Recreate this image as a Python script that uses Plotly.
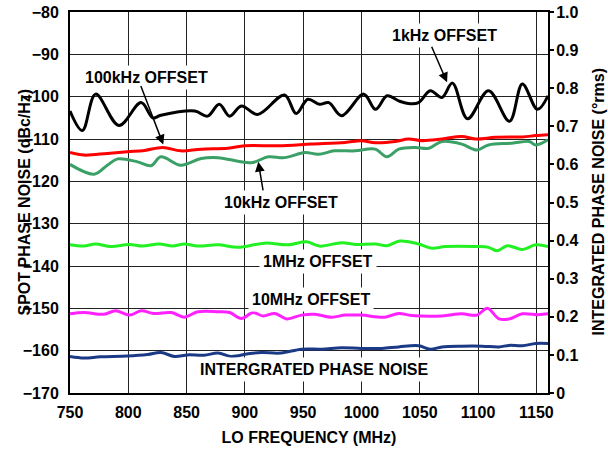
import plotly.graph_objects as go

# ---------------- data ----------------
f_1k = [750, 760.6, 772, 792, 811, 821, 828, 857, 868, 878, 887, 897, 911, 934, 944, 954,
        964, 972, 983, 1002, 1012, 1022, 1032, 1040, 1049, 1059, 1069, 1078, 1091, 1109,
        1127, 1138, 1151, 1160]
pn_1k = [-103.4, -108.0, -99.4, -106.8, -101.4, -105.0, -104.4, -103.4, -104.6, -101.8,
         -104.6, -102.2, -104.2, -99.6, -104.0, -100.6, -101.8, -101.4, -104.5, -99.4,
         -103.0, -99.8, -101.0, -101.6, -101.4, -98.6, -100.2, -96.8, -105.2, -98.6,
         -105.8, -97.0, -103.0, -99.8]

f_100k = [750, 762, 782, 799, 814, 829.5, 845, 862.5, 885.5, 900, 928.5, 957, 986, 1000,
          1012, 1029, 1040.5, 1052, 1069, 1086, 1098, 1115, 1138, 1149.5, 1160]
pn_100k = [-113.2, -113.8, -113.4, -113.0, -112.7, -112.0, -112.8, -112.4, -112.2, -111.6,
           -111.6, -111.2, -110.8, -110.4, -110.9, -110.6, -110.0, -110.4, -110.0, -109.4,
           -110.0, -109.6, -109.5, -109.2, -109.0]

f_10k = [750, 770.7, 782, 790.8, 808, 819.5, 828, 845, 862.5, 877, 905.6, 920, 934, 951.5,
         963, 977, 994.5, 1011.8, 1021.8, 1032, 1046, 1057.7, 1069, 1086, 1099, 1109, 1129,
         1144, 1149.5, 1160]
pn_10k = [-116.0, -118.3, -116.2, -114.7, -115.4, -116.3, -114.2, -116.2, -114.6, -114.4,
          -115.6, -114.2, -114.4, -113.2, -113.6, -112.8, -112.8, -112.4, -114.2, -112.4,
          -112.0, -112.2, -110.6, -111.2, -112.6, -111.4, -111.0, -110.6, -111.4, -110.2]

f_1m = [750, 762, 772, 785, 801, 812, 826.6, 838, 848, 859.6, 877, 894, 917, 937, 953, 964,
        983, 994.5, 1012, 1022, 1033, 1049, 1060.6, 1072, 1098, 1109, 1116.5, 1125, 1138,
        1149.5, 1160]
pn_1m = [-135.0, -135.3, -134.8, -135.4, -134.9, -135.3, -134.8, -135.3, -134.8, -135.3,
         -135.0, -135.6, -134.6, -135.0, -134.3, -135.3, -134.5, -134.9, -134.8, -135.2,
         -134.1, -134.8, -135.8, -135.4, -135.4, -135.6, -136.4, -135.2, -136.1, -135.0,
         -135.4]

f_10m = [750, 762, 779, 789, 801, 811, 822, 837, 848, 859.6, 877, 887, 897, 907, 915.6,
         925.7, 935.7, 948.6, 960, 974.5, 986, 1000, 1020, 1032, 1043, 1069, 1086, 1099,
         1108, 1118, 1126.6, 1138, 1152, 1160]
pn_10m = [-151.3, -151.0, -151.4, -150.6, -151.6, -150.6, -151.2, -151.0, -152.1, -150.8,
          -150.8, -151.0, -152.4, -151.0, -151.8, -151.2, -152.5, -151.6, -151.4, -152.1,
          -151.6, -151.6, -152.1, -151.2, -151.7, -151.8, -151.3, -151.6, -150.0, -152.5,
          -152.5, -151.3, -151.5, -151.3]

f_int = [750, 762, 776, 799, 816.6, 828, 839.6, 851, 865, 877, 888, 902.7, 914, 931, 948.6,
         966, 983, 1000, 1017.5, 1032, 1049, 1059, 1069, 1086, 1103.6, 1118, 1126.6, 1138,
         1149.5, 1160]
ipn = [0.096, 0.092, 0.095, 0.097, 0.101, 0.106, 0.096, 0.100, 0.099, 0.105, 0.096, 0.103,
       0.106, 0.105, 0.115, 0.115, 0.119, 0.117, 0.117, 0.121, 0.124, 0.115, 0.121, 0.123,
       0.123, 0.121, 0.125, 0.124, 0.130, 0.130]

left_ticks = [-170, -160, -150, -140, -130, -120, -110, -100, -90, -80]
right_tickvals = [0, 0.1, 0.2, 0.3, 0.4, 0.5, 0.6, 0.7, 0.8, 0.9, 1.0]
right_ticktext = ["0", "0.1", "0.2", "0.3", "0.4", "0.5", "0.6", "0.7", "0.8", "0.9", "1.0"]
x_ticks = [750, 800, 850, 900, 950, 1000, 1050, 1100, 1150]

FONT = "Liberation Sans, Arial, sans-serif"

fig = go.Figure()

def add(x, y, color, axis="y"):
    fig.add_trace(go.Scatter(x=x, y=y, mode="lines", yaxis=axis,
                             line=dict(color=color, width=3, shape="spline", smoothing=1.0),
                             hoverinfo="skip"))

add(f_int, ipn, "#1b3a85", "y2")
add(f_10m, pn_10m, "#ff22ff")
add(f_1m, pn_1m, "#22f022")
add(f_10k, pn_10k, "#3aa066")
add(f_100k, pn_100k, "#ff0000")
add(f_1k, pn_1k, "#000000")

tf = dict(family=FONT, size=16, color="black", weight="bold")

W, H = 608, 453
ML, MR, MT, MB = 70, 60, 12, 60
fig.update_layout(
    width=W, height=H,
    margin=dict(l=ML, r=MR, t=MT, b=MB, autoexpand=False),
    paper_bgcolor="white", plot_bgcolor="white",
    showlegend=False,
    font=dict(family=FONT, size=16, color="black", weight="bold"),
    xaxis=dict(range=[750, 1160], tickvals=x_ticks, showgrid=True, gridcolor="#222",
               gridwidth=1, showline=True, linecolor="black", linewidth=2, mirror=True,
               ticks="", tickfont=tf, zeroline=False, ticklabelstandoff=4, automargin=False,
               ticklabeloverflow="allow",
               title=dict(text="LO FREQUENCY (MHz)", font=dict(family=FONT, size=16, weight="bold"),
                          standoff=12)),
    yaxis=dict(range=[-170, -80], tickvals=left_ticks, showgrid=True, gridcolor="#222",
               gridwidth=1, showline=True, linecolor="black", linewidth=2, ticks="",
               tickfont=tf, zeroline=False, ticklabelstandoff=6, automargin=False,
               ticklabeloverflow="allow"),
    yaxis2=dict(range=[0, 1], overlaying="y", side="right", anchor="x",
                tickvals=right_tickvals, ticktext=right_ticktext, showgrid=False,
                showline=True, linecolor="black", linewidth=2, ticks="outside",
                ticklen=4, tickwidth=1.5, tickcolor="black", tickfont=tf, zeroline=False,
                ticklabelstandoff=-1, automargin=False, ticklabeloverflow="allow"),
    yaxis3=dict(range=[0, 1], overlaying="y", side="right", anchor="x",
                tickvals=right_tickvals, showgrid=False, showline=False, ticks="inside",
                ticklen=4, tickwidth=1.5, tickcolor="black", showticklabels=False,
                zeroline=False, automargin=False),
)

PW = W - ML - MR  # plot width in px
# axis titles placed as rotated texts
fig.add_annotation(text="SPOT PHASE NOISE (dBc/Hz)", xref="paper", yref="paper",
                   x=(24 - ML) / PW, y=0.5, textangle=-90, showarrow=False,
                   font=dict(family=FONT, size=16, weight="bold"), xanchor="center", yanchor="middle")
fig.add_annotation(text="INTEGRATED PHASE NOISE (°rms)", xref="paper", yref="paper",
                   x=(598 - ML) / PW, y=0.5, textangle=-90, showarrow=False,
                   font=dict(family=FONT, size=16, weight="bold"), xanchor="center", yanchor="middle")

labels = [
    ("1kHz OFFSET", 1070.8, -85.6),
    ("100kHz OFFSET", 815.8, -95.5),
    ("10kHz OFFSET", 930.8, -125.0),
    ("1MHz OFFSET", 963, -139.0),
    ("10MHz OFFSET", 957, -148.0),
    ("INTERGRATED PHASE NOISE", 959.4, -164.4),
]
for t, x, y in labels:
    fig.add_annotation(text=t, x=x, y=y, xref="x", yref="y", showarrow=False,
                       bgcolor="white", borderpad=3,
                       font=dict(family=FONT, size=16, weight="bold", color="black"))

arrows = [
    (1073.4, -96.6, -16, -37),
    (830.0, -111.3, -23, -60),
    (911.5, -115.4, 5, 30),
]
for x, y, ax, ay in arrows:
    fig.add_annotation(text="", x=x, y=y, xref="x", yref="y", ax=ax, ay=ay,
                       showarrow=True, arrowhead=2, arrowsize=1.3, arrowwidth=1.5,
                       arrowcolor="black", standoff=0)

# remove the page's default body margin so the 608x453 figure fills the window
fig.write_html("out.html", config={"displayModeBar": False},
               post_script="document.body.style.margin='0px';")
